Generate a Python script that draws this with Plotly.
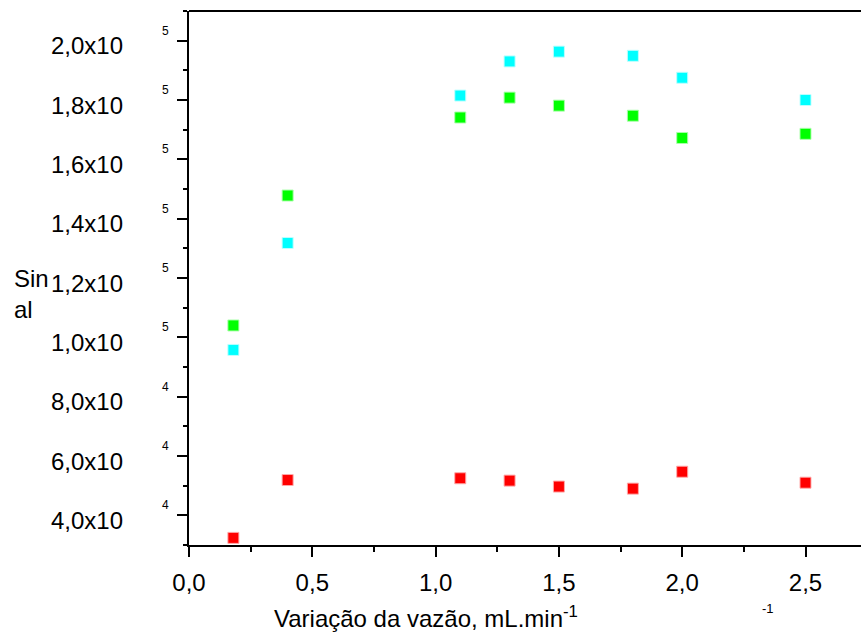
import plotly.graph_objects as go
import math

# ---- data ----
flow = [0.18, 0.40, 1.10, 1.30, 1.50, 1.80, 2.00, 2.50]
sinal_verde = [104000, 147800, 174100, 180800, 178100, 174700, 167200, 168600]
sinal_ciano = [95750, 131800, 181500, 193000, 196300, 194900, 187500, 180000]
sinal_vermelho = [32400, 51900, 52500, 51700, 49700, 49000, 54700, 51000]

x_ticks = [0.0, 0.5, 1.0, 1.5, 2.0, 2.5]
x_ticktext = ["0,0", "0,5", "1,0", "1,5", "2,0", "2,5"]
y_ticks = [40000, 60000, 80000, 100000, 120000, 140000, 160000, 180000, 200000]

FONT = "Liberation Sans, Arial, sans-serif"

fig = go.Figure()

series = [
    (sinal_verde, "#00ff00", "rgba(170,255,170,0.95)"),
    (sinal_ciano, "#00ffff", "rgba(190,255,255,0.95)"),
    (sinal_vermelho, "#ff0000", "rgba(255,170,170,0.95)"),
]
for vals, col, edge in series:
    fig.add_trace(go.Scatter(
        x=flow, y=vals, mode="markers",
        marker=dict(symbol="square", size=11, color=col,
                    line=dict(color=edge, width=1)),
        showlegend=False, hoverinfo="x+y",
    ))

fig.update_xaxes(
    range=[0, 2.725], showgrid=False, zeroline=False,
    showline=True, linecolor="black", linewidth=2,
    ticks="outside", ticklen=10, tickwidth=2, tickcolor="black",
    tickvals=x_ticks, ticktext=x_ticktext,
    tickfont=dict(family=FONT, size=24, color="black"),
    ticklabelstandoff=5,
    minor=dict(ticks="outside", ticklen=5, tickwidth=2, tickcolor="black", dtick=0.25, tick0=0),
)
fig.update_yaxes(
    range=[30000, 210000], showgrid=False, zeroline=False,
    showline=True, linecolor="black", linewidth=2,
    ticks="outside", ticklen=10, tickwidth=2, tickcolor="black",
    tickvals=y_ticks, showticklabels=False,
    minor=dict(ticks="outside", ticklen=4, tickwidth=2, tickcolor="black", dtick=10000, tick0=0),
)

ann = []
for v in y_ticks:
    e = int(math.floor(math.log10(v)))
    mant = f"{v / 10**e:.1f}".replace(".", ",")
    ann.append(dict(x=0, xref="paper", y=v, yref="y", text=mant + "x10",
                    showarrow=False, xanchor="right", yanchor="middle",
                    xshift=-64, yshift=-5,
                    font=dict(family=FONT, size=24, color="black")))
    ann.append(dict(x=0, xref="paper", y=v, yref="y", text=str(e),
                    showarrow=False, xanchor="center", yanchor="middle",
                    xshift=-24, yshift=10,
                    font=dict(family=FONT, size=12, color="black")))

ann.append(dict(x=0, xref="paper", y=0, yref="paper",
                text="Variação da vazão, mL.min<sup>-1</sup>",
                showarrow=False, xanchor="left", yanchor="middle",
                xshift=83, yshift=-72,
                font=dict(family=FONT, size=24, color="black")))
ann.append(dict(x=0, xref="paper", y=0, yref="paper", text="-1",
                showarrow=False, xanchor="center", yanchor="middle",
                xshift=579, yshift=-63,
                font=dict(family=FONT, size=13, color="black")))
ann.append(dict(x=0, xref="paper", y=0.5, yref="paper", text="Sin<br>al",
                showarrow=False, xanchor="left", yanchor="middle", align="left",
                xshift=-177, yshift=-16,
                font=dict(family=FONT, size=24, color="black")))

fig.update_layout(
    width=861, height=633,
    margin=dict(l=189, r=0, t=11, b=88),
    paper_bgcolor="white", plot_bgcolor="white",
    annotations=ann,
    shapes=[dict(type="line", xref="paper", yref="paper", x0=0, x1=1, y0=1, y1=1,
                 line=dict(color="black", width=2))],
)

fig.write_html("out.html")
